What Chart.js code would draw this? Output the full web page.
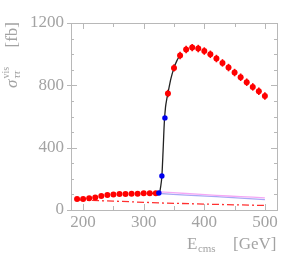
<!DOCTYPE html>
<html><head><meta charset="utf-8">
<script src="https://cdn.jsdelivr.net/npm/chart.js@4"></script>
<style>html,body{margin:0;padding:0;background:#fff}#wrap{width:302px;height:256px}</style>
</head><body><div id="wrap"><canvas id="c" width="302" height="256"></canvas></div>
<script>
// ---- data ----
const redLowE  = [190,200,210,220,230,240,250,260,270,280,290,300,310,320];
const redLowV  = [70,70,75,81,90,96,100,102,102,104,104,107,107,107];
const redLowErr = [6,6,6,6,6,6,6,6,6,6,6,6,6,6];
const blueE = [325,330,335];
const blueV = [109,218,591];
const redHighE = [340,350,360,370,380,390,400,410,420,430,440,450,460,470,480,490,500];
const redHighV = [748,912,991,1030,1042,1036,1020,999,972,944,914,882,852,820,790,762,732];
const redHighErr = [24,24,24,24,24,24,24,24,24,24,24,24,24,24,24,24,24];
const curveE = [310,318,324,326,328,330,332,334,336,338,340,345,350,355,360];
const curveV = [107,107,107,109,150,218,380,560,660,710,750,845,912,960,992];
const pinkE = [327,370,420,460,500];
const pinkV = [116,106,94,86,78];
const lblueE = [327,370,420,460,500];
const lblueV = [106,96,86,76,67];
const dashE = [190,250,330,420,500];
const dashV = [65,57,45,36,29];
const xTickLabels = [200,300,400,500];
const yTickLabels = [0,400,800,1200];
const xMinorTicks = [200,250,300,350,400,450,500];
const yMinorTicks = [0,100,200,300,400,500,600,700,800,900,1000,1100,1200];

const pts = (xs, ys) => xs.map((x,i)=>({x, y: ys[i]}));
const GRAY = '#a3a3a3';
const FRAME = '#b8b8b8';
const FONT = '"Liberation Serif", "DejaVu Serif", serif';

const errPlugin = {
  id: 'errbars',
  beforeDatasetsDraw(chart) {
    const {ctx, scales:{x, y}} = chart;
    ctx.save();
    ctx.strokeStyle = '#ff0000';
    ctx.lineWidth = 1.6;
    const sets = [[redLowE, redLowV, redLowErr],[redHighE, redHighV, redHighErr]];
    sets.forEach(([es, vs, er]) => {
      es.forEach((e,i)=>{
        const px = x.getPixelForValue(e);
        ctx.beginPath();
        ctx.moveTo(px, y.getPixelForValue(vs[i]-er[i]));
        ctx.lineTo(px, y.getPixelForValue(vs[i]+er[i]));
        ctx.stroke();
      });
    });
    ctx.restore();
  }
};

const framePlugin = {
  id: 'frame',
  afterDraw(chart) {
    const {ctx, chartArea:a, scales:{x, y}} = chart;
    ctx.save();
    ctx.strokeStyle = FRAME;
    ctx.lineWidth = 1;
    ctx.strokeRect(Math.round(a.left)+0.5, Math.round(a.top)+0.5, Math.round(a.right-a.left), Math.round(a.bottom-a.top));
    ctx.beginPath();
    xMinorTicks.forEach(v=>{
      const px = Math.round(x.getPixelForValue(v))+0.5;
      const len = xTickLabels.includes(v) ? 6 : 4;
      ctx.moveTo(px, a.bottom); ctx.lineTo(px, a.bottom-len);
      ctx.moveTo(px, a.top); ctx.lineTo(px, a.top+len);
    });
    yMinorTicks.forEach(v=>{
      const py = Math.round(y.getPixelForValue(v))+0.5;
      const len = yTickLabels.includes(v) ? 6 : 3;
      ctx.moveTo(a.left, py); ctx.lineTo(a.left+len, py);
      ctx.moveTo(a.right, py); ctx.lineTo(a.right-len, py);
      if (yTickLabels.includes(v)) { ctx.moveTo(a.left, py); ctx.lineTo(a.left-4, py); }
    });
    ctx.stroke();

    // x title
    ctx.fillStyle = GRAY;
    ctx.textBaseline = 'alphabetic';
    ctx.textAlign = 'left';
    ctx.font = '17px ' + FONT;
    ctx.fillText('E', 187, 249);
    const wE = ctx.measureText('E').width;
    ctx.font = '11px ' + FONT;
    ctx.fillText('cms', 187 + wE + 0.5, 252);
    ctx.font = '17px ' + FONT;
    ctx.fillText('[GeV]', 233, 249);

    // y title (rotated)
    ctx.translate(17, 88);
    ctx.rotate(-Math.PI/2);
    ctx.font = 'italic 17px ' + FONT;
    ctx.fillText('\u03C3', 0, 0);
    const ws = ctx.measureText('\u03C3').width;
    ctx.font = '10px ' + FONT;
    ctx.fillText('vis', ws + 1, -8);
    ctx.font = 'italic 11px ' + FONT;
    ctx.fillText('\u03C4\u03C4', ws + 1, 3);
    ctx.font = '17px ' + FONT;
    ctx.textAlign = 'right';
    ctx.fillText('[fb]', 66, 0);
    ctx.restore();
  }
};

new Chart(document.getElementById('c'), {
  type: 'scatter',
  data: {
    datasets: [
      {data: pts(blueE, blueV), pointRadius: 2.7, pointBackgroundColor: '#0000ee', pointBorderWidth: 0, showLine: false},
      {data: pts(redLowE, redLowV), pointRadius: 3, pointBackgroundColor: '#ff0000', pointBorderWidth: 0, showLine: false},
      {data: pts(redHighE, redHighV), pointRadius: 3, pointBackgroundColor: '#ff0000', pointBorderWidth: 0, showLine: false},
      {data: pts(curveE, curveV), showLine: true, borderColor: '#222222', borderWidth: 1.3, pointRadius: 0, cubicInterpolationMode: 'monotone'},
      {data: pts(pinkE, pinkV), showLine: true, borderColor: '#f5a8f5', borderWidth: 1.3, pointRadius: 0, tension: 0.3},
      {data: pts(lblueE, lblueV), showLine: true, borderColor: '#a8a8f5', borderWidth: 1.3, pointRadius: 0, tension: 0.3},
      {data: pts(dashE, dashV), showLine: true, borderColor: '#ff3030', borderWidth: 1.3, pointRadius: 0, borderDash: [7,3,2,3]}
    ]
  },
  options: {
    responsive: false, animation: false, devicePixelRatio: 1,
    layout: {padding: {top: 23, right: 25, left: 0, bottom: 0}},
    plugins: {legend: {display: false}, tooltip: {enabled: false}},
    scales: {
      x: {
        type: 'linear', min: 180, max: 520, position: 'bottom',
        grid: {display: false, drawTicks: false}, border: {display: false},
        ticks: {font: {family: FONT, size: 17}, color: GRAY, padding: 2, maxRotation: 0, autoSkip: false, callback: v => String(v)},
        afterBuildTicks: s => { s.ticks = xTickLabels.map(v => ({value: v})); },
        afterFit: s => { s.height = 46; }
      },
      y: {
        type: 'linear', min: 0, max: 1200,
        grid: {display: false, drawTicks: false}, border: {display: false},
        ticks: {font: {family: FONT, size: 17}, color: GRAY, padding: 7, autoSkip: false, callback: v => String(v)},
        afterBuildTicks: s => { s.ticks = yTickLabels.map(v => ({value: v})); },
        afterFit: s => { s.width = 71; }
      }
    }
  },
  plugins: [errPlugin, framePlugin]
});
</script></body></html>
